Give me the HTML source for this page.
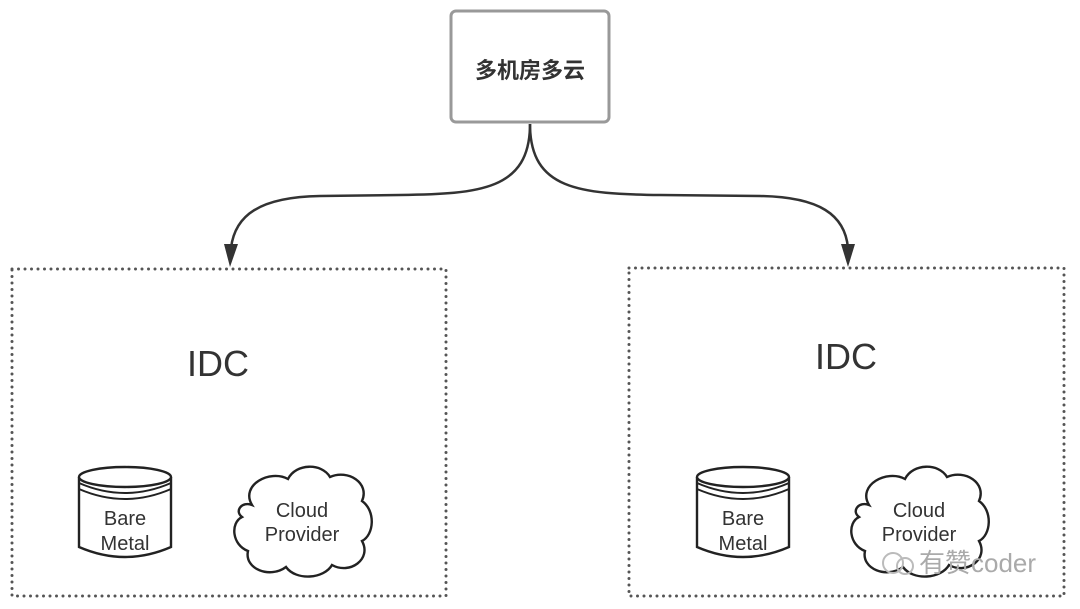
<!DOCTYPE html>
<html><head><meta charset="utf-8"><style>
html,body{margin:0;padding:0;background:#fff;}
svg{display:block;}
text{font-family:"Liberation Sans","Noto Sans CJK SC",sans-serif;fill:#333;}
</style></head><body>
<svg width="1080" height="609" viewBox="0 0 1080 609" xmlns="http://www.w3.org/2000/svg">
<defs>
<g id="cyl">
<path d="M0,10 L0,80 Q46,100 92,80 L92,10" fill="#fff" stroke="#222" stroke-width="2.4"/>
<ellipse cx="46" cy="10" rx="46" ry="10" fill="#fff" stroke="#222" stroke-width="2.4"/>
<path d="M0,16 Q46,36 92,16 M0,22 Q46,42 92,22" fill="none" stroke="#222" stroke-width="2"/>
</g>
<g id="cloud">
<path d="M22,40 C10,20 40,4 58,14 C66,-2 92,-2 100,12 C118,4 140,18 132,36 C146,46 144,70 132,76 C142,94 120,110 102,100 C94,114 66,116 56,102 C40,114 14,104 18,86 C2,80 0,58 12,52 C4,46 12,36 22,40 Z" fill="#fff" stroke="#222" stroke-width="2.4"/>
</g>
</defs>
<rect x="451" y="11" width="158" height="111" rx="5" fill="#fff" stroke="#999" stroke-width="3"/>
<text x="530" y="78" font-size="22" font-weight="bold" text-anchor="middle" fill="#333">多机房多云</text>
<path d="M530,124 C530,190 480,194 400,195 L320,196 C260,197 235,215 231,248" fill="none" stroke="#333" stroke-width="2.5"/>
<polygon points="224,244 238,244 230,267" fill="#333"/>
<path d="M530,124 C530,190 580,194 660,195 L760,196 C820,197 845,215 848,248" fill="none" stroke="#333" stroke-width="2.5"/>
<polygon points="841,244 855,244 848,267" fill="#333"/>
<rect x="12" y="269" width="434" height="327" fill="none" stroke="#555" stroke-width="3" stroke-dasharray="0,6.5" stroke-linecap="round"/>
<rect x="629" y="268" width="435" height="328" fill="none" stroke="#555" stroke-width="3" stroke-dasharray="0,6.5" stroke-linecap="round"/>
<text x="218" y="376" font-size="36" text-anchor="middle">IDC</text>
<text x="846" y="369" font-size="36" text-anchor="middle">IDC</text>
<use href="#cyl" x="79" y="467"/>
<use href="#cyl" x="697" y="467"/>
<use href="#cloud" x="230" y="465"/>
<use href="#cloud" x="847" y="465"/>
<text x="125" y="525" font-size="20" text-anchor="middle">Bare</text>
<text x="125" y="550" font-size="20" text-anchor="middle">Metal</text>
<text x="743" y="525" font-size="20" text-anchor="middle">Bare</text>
<text x="743" y="550" font-size="20" text-anchor="middle">Metal</text>
<text x="302" y="517" font-size="20" text-anchor="middle">Cloud</text>
<text x="302" y="541" font-size="20" text-anchor="middle">Provider</text>
<text x="919" y="517" font-size="20" text-anchor="middle">Cloud</text>
<text x="919" y="541" font-size="20" text-anchor="middle">Provider</text>
<text x="919" y="572" font-size="26" style="fill:#aaa">有赞coder</text>
<circle cx="893" cy="563" r="10" fill="none" stroke="#bbb" stroke-width="2"/>
<circle cx="905" cy="566" r="8" fill="none" stroke="#bbb" stroke-width="2"/>
</svg>
</body></html>
